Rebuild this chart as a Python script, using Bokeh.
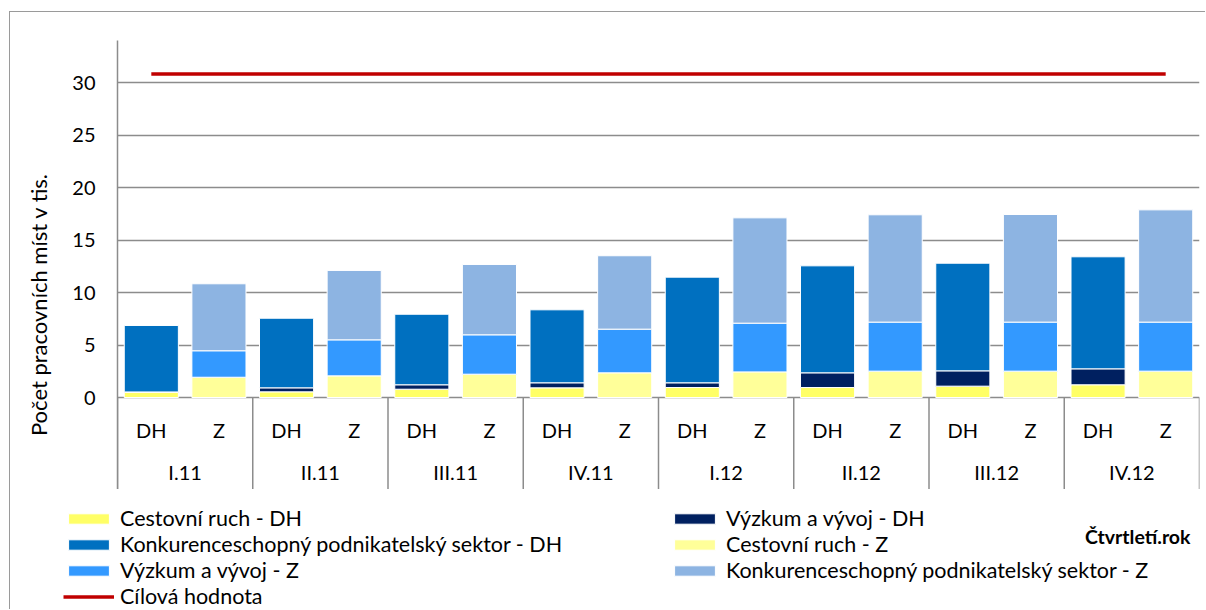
import math
from bokeh.plotting import figure
from bokeh.models import (FactorRange, Range1d, FixedTicker, Legend, LegendItem,
                          Label, ColumnDataSource, Spacer)
from bokeh.layouts import column, row
from bokeh.embed import file_html
from bokeh.resources import INLINE
from bokeh.core.properties import value

# ---------------- data ----------------
quarters = ["I.11", "II.11", "III.11", "IV.11", "I.12", "II.12", "III.12", "IV.12"]
kinds = ["DH", "Z"]

# DH stacks (thousand jobs)
cestovni_ruch_dh = [0.48, 0.54, 0.79, 0.92, 0.95, 0.95, 1.08, 1.21]
vyzkum_dh = [0.05, 0.38, 0.42, 0.48, 0.45, 1.40, 1.46, 1.52]
konkurence_dh = [6.33, 6.63, 6.72, 6.95, 10.06, 10.19, 10.25, 10.67]

# Z stacks
cestovni_ruch_z = [1.93, 2.06, 2.22, 2.35, 2.44, 2.51, 2.51, 2.51]
vyzkum_z = [2.52, 3.43, 3.75, 4.16, 4.64, 4.67, 4.67, 4.67]
konkurence_z = [6.38, 6.61, 6.70, 6.99, 10.03, 10.22, 10.25, 10.69]

# target value (Cílová hodnota), one per category
cilova_hodnota = [30.8, 30.8, 30.8, 30.8, 30.8, 30.8, 30.8, 30.8,
                  30.8, 30.8, 30.8, 30.8, 30.8, 30.8, 30.8, 30.8]

y_ticks = [0, 5, 10, 15, 20, 25, 30]

# ---------------- styling ----------------
FONT = value("Lato")
GRAY = "#8c8c8c"
BORDER = "1px solid #9a9a9a"
C_CR_DH = "#FFFF66"
C_VAV_DH = "#002060"
C_KPS_DH = "#0070C0"
C_CR_Z = "#FFFF99"
C_VAV_Z = "#3399FF"
C_KPS_Z = "#8DB4E2"
C_RED = "#C00000"


def bare(fig):
    fig.outline_line_color = None
    fig.grid.visible = False
    fig.background_fill_color = "white"
    fig.border_fill_color = "white"


# ---------------- y-axis title strip ----------------
pt = figure(width=46, height=478, x_range=Range1d(0, 1), y_range=Range1d(0, 1),
            output_backend="svg", toolbar_location=None, x_axis_location=None,
            y_axis_location=None, min_border=0, min_border_left=0, min_border_right=0,
            min_border_top=0, min_border_bottom=0)
bare(pt)
pt.styles = {"border-top": BORDER, "border-left": BORDER}
pt.add_layout(Label(x=28, y=186, x_units="screen", y_units="screen",
                    text="Počet pracovních míst v tis.", angle=math.pi / 2,
                    text_align="center", text_baseline="middle",
                    text_font="Lato", text_font_size="22px", text_color="#000000"))

# ---------------- main chart ----------------
factors = [(q, k) for q in quarters for k in kinds]
x_range = FactorRange(factors=factors, factor_padding=0, group_padding=0,
                      subgroup_padding=0, range_padding=0)

Y_MIN = -8.857
p = figure(x_range=x_range, y_range=Range1d(Y_MIN, 34),
           width=1150, height=478, output_backend="svg", toolbar_location=None,
           x_axis_location=None, min_border_left=62, min_border_right=6,
           min_border_top=28, min_border_bottom=0)
p.outline_line_color = None
p.background_fill_color = "white"
p.border_fill_color = "white"
p.styles = {"border-top": BORDER}

ax = p.yaxis[0]
ax.ticker = FixedTicker(ticks=y_ticks)
ax.axis_line_color = GRAY
ax.axis_line_width = 1.5
ax.major_tick_line_color = None
ax.minor_tick_line_color = None
ax.major_tick_out = 0
ax.major_tick_in = 0
ax.major_label_standoff = 22
ax.major_label_text_font = "Lato"
ax.major_label_text_font_size = "20px"
ax.major_label_text_color = "#000000"

p.xgrid.visible = False
p.ygrid.ticker = FixedTicker(ticks=y_ticks)
p.ygrid.grid_line_color = GRAY
p.ygrid.grid_line_width = 1.5

dh_src = ColumnDataSource(dict(x=[(q, "DH") for q in quarters],
                               cr=cestovni_ruch_dh, vav=vyzkum_dh, kps=konkurence_dh))
z_src = ColumnDataSource(dict(x=[(q, "Z") for q in quarters],
                              cr=cestovni_ruch_z, vav=vyzkum_z, kps=konkurence_z))

p.vbar_stack(["cr", "vav", "kps"], x="x", width=0.8, source=dh_src,
             fill_color=[C_CR_DH, C_VAV_DH, C_KPS_DH], line_color="white", line_width=1)
p.vbar_stack(["cr", "vav", "kps"], x="x", width=0.8, source=z_src,
             fill_color=[C_CR_Z, C_VAV_Z, C_KPS_Z], line_color="white", line_width=1)

p.line(x=factors, y=cilova_hodnota, line_color=C_RED, line_width=3.5)

# two-level category axis drawn in the frame below zero
sep_x = [(q, "DH", -0.5) for q in quarters] + [(quarters[-1], "Z", 0.5)]
p.segment(x0=sep_x, x1=sep_x, y0=[0] * len(sep_x), y1=[Y_MIN] * len(sep_x),
          line_color=GRAY, line_width=1.5)
p.text(x=factors, y=[-3.14] * len(factors), text=[k for q in quarters for k in kinds],
       text_align="center", text_baseline="middle", text_font=FONT,
       text_font_size="20px", text_color="#000000")
p.text(x=quarters, y=[-7.14] * len(quarters), text=quarters,
       text_align="center", text_baseline="middle", text_font=FONT,
       text_font_size="20px", text_color="#000000")

# ---------------- legend strip ----------------
p2 = figure(width=1196, height=120, x_range=Range1d(0, 1), y_range=Range1d(0, 1),
            output_backend="svg", toolbar_location=None, x_axis_location=None,
            y_axis_location=None, min_border=0, min_border_left=0, min_border_right=0,
            min_border_top=0, min_border_bottom=0)
bare(p2)
p2.styles = {"border-left": BORDER}

# off-range proxy point so the legend can draw each series' swatch
proxy = ColumnDataSource(dict(x=[-1.0], top=[-1.0]))


def swatch(color):
    return p2.vbar(x="x", top="top", width=0.8, source=proxy, fill_color=color,
                   line_color="white", line_width=1)


g_cr_dh = swatch(C_CR_DH)
g_vav_dh = swatch(C_VAV_DH)
g_kps_dh = swatch(C_KPS_DH)
g_cr_z = swatch(C_CR_Z)
g_vav_z = swatch(C_VAV_Z)
g_kps_z = swatch(C_KPS_Z)
g_line = p2.line(x="x", y="top", source=proxy, line_color=C_RED, line_width=3.5)

common = dict(orientation="vertical", glyph_width=51, glyph_height=13,
              label_standoff=6, spacing=0, padding=0, margin=0,
              border_line_color=None, background_fill_alpha=0,
              label_text_font="Lato", label_text_font_size="21.5px",
              label_height=26, label_text_color="#000000")
left_legend = Legend(items=[
    LegendItem(label="Cestovní ruch - DH", renderers=[g_cr_dh]),
    LegendItem(label="Konkurenceschopný podnikatelský sektor - DH", renderers=[g_kps_dh]),
    LegendItem(label="Výzkum a vývoj - Z", renderers=[g_vav_z]),
    LegendItem(label="Cílová hodnota", renderers=[g_line]),
], location=(53, 0), **common)
right_legend = Legend(items=[
    LegendItem(label="Výzkum a vývoj - DH", renderers=[g_vav_dh]),
    LegendItem(label="Cestovní ruch - Z", renderers=[g_cr_z]),
    LegendItem(label="Konkurenceschopný podnikatelský sektor - Z", renderers=[g_kps_z]),
], location=(659, 26), **common)
p2.add_layout(left_legend)
p2.add_layout(right_legend)

p2.add_layout(Label(x=1180, y=73, x_units="screen", y_units="screen",
                    text="Čtvrtletí.rok", text_align="right", text_baseline="middle",
                    text_font="Lato", text_font_style="bold", text_font_size="19.5px",
                    text_color="#000000"))

layout = column(Spacer(height=11),
                row(Spacer(width=9), pt, p),
                row(Spacer(width=9), p2))

open("out.html", "w").write(file_html(layout, INLINE))
